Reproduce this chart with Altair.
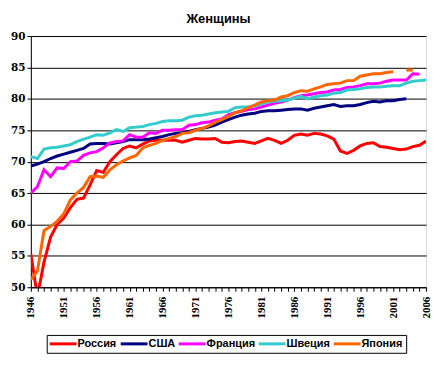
import altair as alt
import pandas as pd

years = list(range(1946, 2007))

countries = ["Россия", "США", "Франция", "Швеция", "Япония"]
colors = ["#FF0000", "#000080", "#FF00FF", "#33CCCC", "#FF6600"]

russia = [55.3, 48.5, 54.0, 58.0, 60.0, 61.0, 62.7, 64.0, 64.2, 66.3,
          68.6, 68.3, 70.0, 71.1, 72.1, 72.5, 72.2, 72.8, 73.3, 73.4,
          73.4, 73.4, 73.4, 73.1, 73.4, 73.7, 73.6, 73.6, 73.7, 73.1,
          73.0, 73.2, 73.3, 73.1, 72.9, 73.3, 73.7, 73.4, 72.9, 73.4,
          74.2, 74.4, 74.2, 74.5, 74.4, 74.1, 73.6, 71.7, 71.3, 71.8,
          72.5, 72.9, 73.0, 72.4, 72.3, 72.1, 71.9, 72.0, 72.4, 72.6, 73.3]

usa = [69.3, 69.6, 70.0, 70.5, 70.9, 71.2, 71.5, 71.8, 72.1, 72.8,
       72.9, 72.9, 72.8, 73.0, 73.2, 73.5, 73.5, 73.5, 73.6, 73.8,
       74.0, 74.3, 74.5, 74.6, 74.8, 75.1, 75.3, 75.5, 75.8, 76.3,
       76.7, 77.1, 77.4, 77.6, 77.7, 78.0, 78.1, 78.1, 78.2, 78.3,
       78.4, 78.4, 78.2, 78.5, 78.7, 78.9, 79.1, 78.8, 78.9, 78.9,
       79.1, 79.4, 79.6, 79.5, 79.7, 79.7, 79.9, 80.0, None, None, None]

france = [65.0, 66.0, 68.7, 67.6, 69.0, 68.9, 70.0, 70.1, 71.0, 71.4,
          71.6, 72.2, 73.0, 73.2, 73.3, 74.3, 73.9, 73.9, 74.6, 74.5,
          75.0, 75.0, 75.1, 75.1, 75.8, 75.9, 76.2, 76.3, 76.6, 76.8,
          77.5, 77.8, 78.0, 78.3, 78.4, 78.7, 79.0, 79.3, 79.5, 79.8,
          80.2, 80.5, 80.6, 80.8, 81.0, 81.1, 81.4, 81.5, 81.8, 81.9,
          82.1, 82.4, 82.4, 82.5, 82.8, 83.0, 83.0, 83.0, 84.0, 83.9, None]

sweden = [70.8, 70.5, 72.0, 72.2, 72.3, 72.5, 72.7, 73.2, 73.6, 73.9,
          74.3, 74.2, 74.6, 75.1, 74.8, 75.4, 75.5, 75.6, 75.9, 76.1,
          76.4, 76.5, 76.5, 76.6, 77.1, 77.3, 77.4, 77.6, 77.8, 77.9,
          78.0, 78.6, 78.7, 78.7, 78.9, 79.2, 79.5, 79.6, 79.7, 79.8,
          80.1, 80.4, 80.0, 80.3, 80.5, 80.6, 80.9, 81.0, 81.4, 81.5,
          81.6, 81.8, 81.9, 81.9, 82.0, 82.1, 82.1, 82.5, 82.8, 82.9, 83.0]

japan = [51.2, 52.6, 59.0, 59.7, 60.5, 61.7, 63.9, 65.0, 65.9, 67.6,
         67.7, 67.5, 68.7, 69.5, 70.1, 70.6, 71.0, 72.2, 72.6, 72.9,
         73.4, 73.7, 74.0, 74.5, 74.6, 75.0, 75.3, 75.7, 76.3, 76.7,
         77.2, 77.8, 78.1, 78.6, 79.0, 79.5, 79.7, 79.8, 80.3, 80.5,
         81.0, 81.3, 81.2, 81.6, 81.9, 82.3, 82.4, 82.5, 82.9, 82.9,
         83.6, 83.8, 84.0, 84.0, 84.2, 84.3, None, 84.6, 84.6, None, None]

y_ticks = [50, 55, 60, 65, 70, 75, 80, 85, 90]

series = [russia, usa, france, sweden, japan]
rows = []
for name, vals in zip(countries, series):
    seg = 0
    for yr, v in zip(years, vals):
        if v is None:
            seg += 1
            continue
        rows.append({"year": yr, "value": v, "country": name, "seg": f"{name}-{seg}"})
df = pd.DataFrame(rows)

chart = alt.Chart(df).mark_line(strokeWidth=3, clip=True).encode(
    x=alt.X(
        "year:Q",
        scale=alt.Scale(domain=[1946, 2006], nice=False, zero=False),
        axis=alt.Axis(
            title=None, values=years, format="d",
            labelExpr="(datum.value - 1946) % 5 == 0 ? datum.label : ''",
            labelAngle=-90, labelOverlap=False, labelFlush=False,
            grid=False, tickSize=4, tickColor="black", domainColor="black",
            labelFont="Liberation Serif", labelFontWeight="bold", labelFontSize=11,
            labelColor="black", labelPadding=5,
        ),
    ),
    y=alt.Y(
        "value:Q",
        scale=alt.Scale(domain=[50, 90], nice=False, zero=False),
        axis=alt.Axis(
            title=None, values=y_ticks, grid=True, gridColor="black", gridOpacity=1,
            tickSize=4, tickColor="black", domainColor="black",
            labelFont="DejaVu Serif", labelFontWeight="bold", labelFontSize=10.5,
            labelColor="black", labelPadding=2,
        ),
    ),
    color=alt.Color(
        "country:N",
        scale=alt.Scale(domain=countries, range=colors),
        legend=alt.Legend(
            title=None, orient="none", legendX=16, legendY=301, direction="horizontal",
            symbolType="M-3,0H3", symbolStrokeWidth=3, symbolSize=81,
            symbolOffset=7.5, labelOffset=8.5,
            labelFont="Liberation Sans", labelFontWeight="bold", labelFontSize=11,
            labelColor="black", columnPadding=-2.5,
            strokeColor="black", padding=3, fillColor="white",
        ),
    ),
    detail="seg:N",
).properties(
    width=398,
    height=253,
    title=alt.TitleParams(
        "Женщины", font="Liberation Sans", fontSize=13, fontWeight="bold",
        color="black", anchor="middle", dx=-10, offset=5,
    ),
    autosize=alt.AutoSizeParams(type="none"),
    padding={"left": 23, "top": 27, "right": 6, "bottom": 70},
).configure_view(
    stroke="#808080", strokeWidth=1
).configure(background="white")

chart.save("out.html", embed_options={"renderer": "svg", "actions": False})
